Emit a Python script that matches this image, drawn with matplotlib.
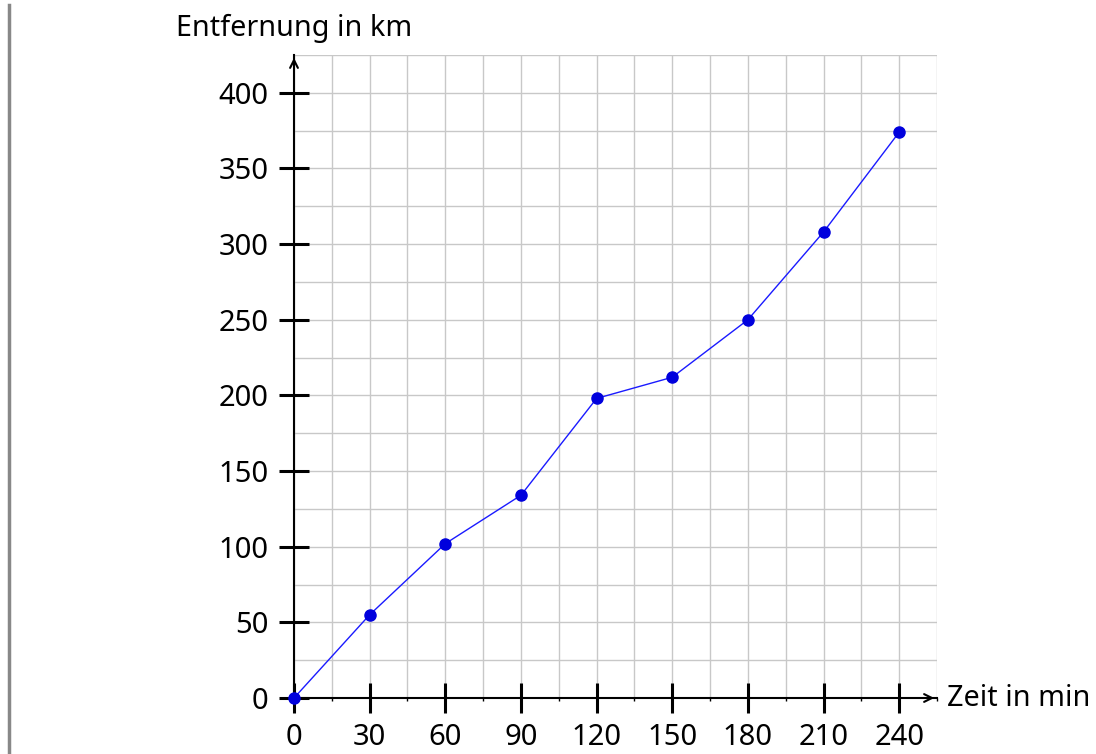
import matplotlib
matplotlib.use("Agg")
import matplotlib.pyplot as plt
from matplotlib.ticker import MultipleLocator
from matplotlib.lines import Line2D

plt.rcParams['font.family'] = ['Noto Sans', 'DejaVu Sans']

zeit = [0, 30, 60, 90, 120, 150, 180, 210, 240]
entfernung = [0, 55, 102, 134, 198, 212, 250, 308, 374]
x_ticks = [0, 30, 60, 90, 120, 150, 180, 210, 240]
y_ticks = [0, 50, 100, 150, 200, 250, 300, 350, 400]
x_label = "Zeit in min"
y_label = "Entfernung in km"

W, H = 1096, 754
fig = plt.figure(figsize=(W / 100, H / 100), dpi=100)
ax = fig.add_axes([294 / W, (H - 698) / H, 643 / W, 643 / H])
ax.set_xlim(0, 255)
ax.set_ylim(0, 425)

ax.xaxis.set_minor_locator(MultipleLocator(15))
ax.yaxis.set_minor_locator(MultipleLocator(25))
ax.set_xticks(x_ticks)
ax.set_yticks(y_ticks)
ax.grid(True, which='both', color='#c8c8c8', lw=1.0)
ax.set_axisbelow(True)

for s in ['top', 'right']:
    ax.spines[s].set_visible(False)
for s in ['left', 'bottom']:
    ax.spines[s].set_linewidth(1.5)
    ax.spines[s].set_color('black')

ax.tick_params(which='major', direction='inout', length=21.6, width=2.2,
               labelsize=21, colors='black', pad=7.5)
ax.tick_params(which='minor', direction='out', length=2, width=1, colors='black')
ax.tick_params(axis='y', which='minor', length=0)

# axis arrows
ax.annotate('', xy=(1.0, 0), xycoords='axes fraction', xytext=(0.98, 0),
            arrowprops=dict(arrowstyle='->', color='black', lw=1.5, mutation_scale=14))
ax.annotate('', xy=(0, 1.0), xycoords='axes fraction', xytext=(0, 0.98),
            arrowprops=dict(arrowstyle='->', color='black', lw=1.5, mutation_scale=14))

ax.plot(zeit, entfernung, color='#1a1aff', lw=1.0, marker='o', markersize=8,
        markerfacecolor='#0000dd', markeredgecolor='#0000dd', clip_on=False, zorder=5)

fig.text(947 / W, 1 - 698 / H, x_label, fontsize=20.7, ha='left', va='center')
fig.text(294 / W, 1 - 28 / H, y_label, fontsize=20.7, ha='center', va='center')

# left gray bar
fig.add_artist(Line2D([9 / W, 9 / W], [0, 1 - 5 / H], transform=fig.transFigure,
                      color='#888888', lw=2.5))

fig.savefig('out.png', dpi=100)
